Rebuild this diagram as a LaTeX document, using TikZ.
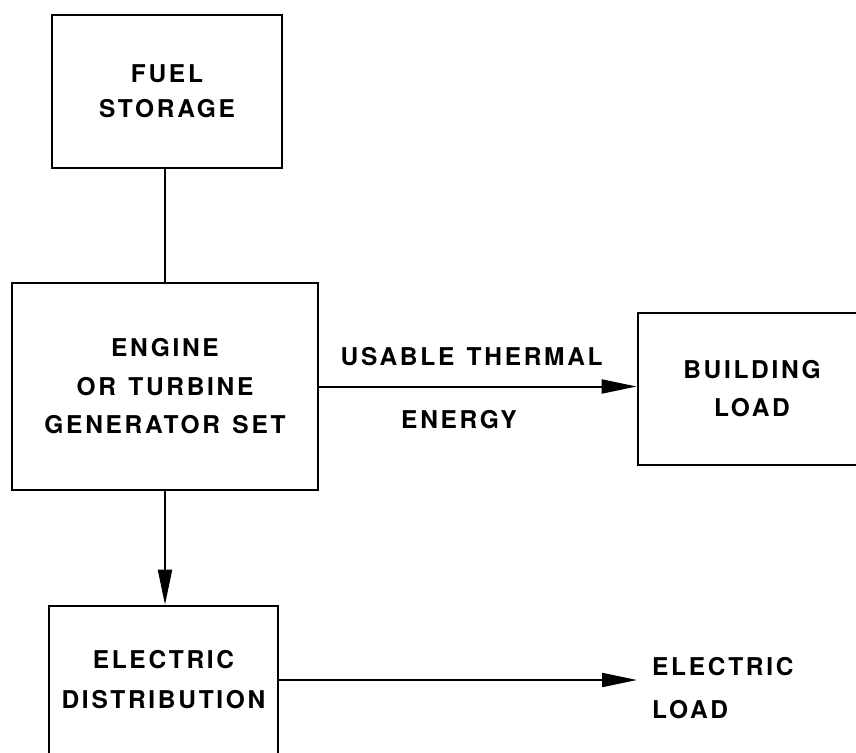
\documentclass[tikz,border=0pt]{standalone}
\usepackage{fontspec}
\setmainfont{TeX Gyre Heros}[LetterSpace=11, WordSpace=1.3]
\usetikzlibrary{
  arrows.meta,
  positioning
}

\begin{document}
\begin{tikzpicture}[x=1pt, y=-1pt,
  unitbox/.style={draw, line width=2.6pt, align=center, inner sep=0pt,
                  font=\fontsize{24.5}{38}\selectfont\bfseries},
  flow/.style={line width=2pt, -{Triangle[length=35pt, width=14pt]}},
  flowtext/.style={inner sep=0pt, font=\fontsize{24.5}{38}\selectfont\bfseries}]
\useasboundingbox (0,0) rectangle (856,752);
\clip (0,0) rectangle (856,752);

% blocks
\node[unitbox, minimum width=230pt, minimum height=153pt,
      font=\fontsize{24.5}{35}\selectfont\bfseries] (fuel) at (167,91.5)
  {FUEL\\STORAGE};
\node[unitbox, minimum width=306pt, minimum height=207pt,
      font=\fontsize{24.5}{38.5}\selectfont\bfseries] (engine) at (165,386.5)
  {ENGINE\\OR TURBINE\\GENERATOR SET};
\node[unitbox, minimum width=228pt, minimum height=152pt] (building) at (752,389)
  {BUILDING\\LOAD};
\node[unitbox, minimum width=229pt, minimum height=148pt,
      font=\fontsize{24.5}{40}\selectfont\bfseries] (elecdist) at (163.5,680)
  {ELECTRIC\\DISTRIBUTION};
\coordinate (eloadin) at (637,680);
\node[flowtext, anchor=west, align=left, font=\fontsize{24.5}{43}\selectfont\bfseries]
  (eload) at (652,688) {ELECTRIC\\LOAD};

% connections
\draw[line width=2pt] (fuel.south -| engine.north) -- (engine.north);
\draw[flow] (engine.south) -- (engine.south |- elecdist.north);
\draw[flow] (engine.east) -- (engine.east -| building.west)
  node[flowtext, pos=0.48, above=20pt] (thermal) {USABLE THERMAL}
  node[flowtext, pos=0.44, below=23pt] (energy) {ENERGY};
\draw[flow] (elecdist.east) -- (eloadin);
\end{tikzpicture}
\end{document}
